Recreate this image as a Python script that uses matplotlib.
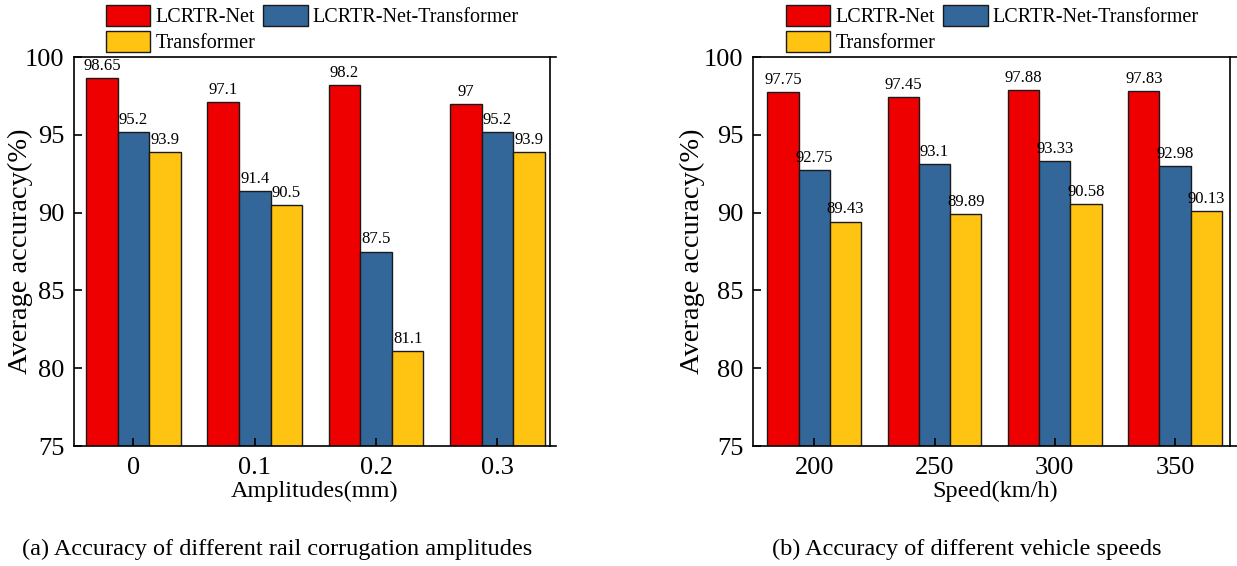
import numpy as np
import matplotlib
matplotlib.use("Agg")
import matplotlib.pyplot as plt

plt.rcParams['font.family'] = ['Liberation Serif', 'DejaVu Serif']

series = ['LCRTR-Net', 'LCRTR-Net-Transformer', 'Transformer']
colors = ['#EE0000', '#336699', '#FFC312']

amp_labels = ['0', '0.1', '0.2', '0.3']
amp_lcrtr = [98.65, 97.1, 98.2, 97]
amp_lcrtr_tr = [95.2, 91.4, 87.5, 95.2]
amp_tr = [93.9, 90.5, 81.1, 93.9]

speed_labels = ['200', '250', '300', '350']
speed_lcrtr = [97.75, 97.45, 97.88, 97.83]
speed_lcrtr_tr = [92.75, 93.1, 93.33, 92.98]
speed_tr = [89.43, 89.89, 90.58, 90.13]

fig = plt.figure(figsize=(12.37, 5.66), dpi=100)
ax1 = fig.add_axes([0.0598, 0.212, 0.3897, 0.687])
ax2 = fig.add_axes([0.6087, 0.212, 0.3913, 0.687])

w = 0.26


def draw(ax, labels, data, xlabel, xlim, rspine, ylab_x):
    x = np.arange(len(labels))
    handles = []
    for i, (vals, c) in enumerate(zip(data, colors)):
        b = ax.bar(x + (i - 1) * w, vals, w, color=c, edgecolor='#1a1a1a',
                   linewidth=1.0, label=series[i])
        ax.bar_label(b, labels=[f'{v:g}' for v in vals], padding=3, fontsize=12)
        handles.append(b)
    ax.set_ylim(75, 100)
    ax.set_yticks([75, 80, 85, 90, 95, 100])
    ax.set_xlim(*xlim)
    ax.set_xticks(x)
    ax.set_xticklabels(labels)
    ax.tick_params(direction='in', length=6, width=1.2, labelsize=19)
    ax.tick_params(axis='x', pad=8)
    ax.tick_params(axis='y', pad=7)
    ax.set_xlabel(xlabel, fontsize=17.5, labelpad=1)
    ax.set_ylabel('Average accuracy(%)', fontsize=20.5)
    # label coords give the right edge of the rotated label
    ax.yaxis.set_label_coords(ylab_x, 0.5)
    for s in ax.spines.values():
        s.set_linewidth(1.2)
    ax.spines['right'].set_position(('data', rspine))
    return handles


h1 = draw(ax1, amp_labels, [amp_lcrtr, amp_lcrtr_tr, amp_tr], 'Amplitudes(mm)',
          (-0.49, 3.483), 3.434, (33 - 74) / 482)
h2 = draw(ax2, speed_labels, [speed_lcrtr, speed_lcrtr_tr, speed_tr], 'Speed(km/h)',
          (-0.51, 3.515), 3.457, (705 - 753) / 484)

# legend fills row by row in the reference
order = [0, 2, 1]
for h, x0 in [(h1, 106), (h2, 786)]:
    fig.legend([h[i] for i in order], [series[i] for i in order], loc='upper left',
               bbox_to_anchor=(x0 / 1237, 1 - 5 / 566),
               ncol=2, frameon=False, fontsize=14.5, handlelength=2.2,
               handleheight=1.2, handletextpad=0.25, columnspacing=0.4,
               labelspacing=0.2, borderpad=0, borderaxespad=0)

fig.text(277 / 1237, 1 - 549 / 566, '(a) Accuracy of different rail corrugation amplitudes',
         ha='center', va='center', fontsize=17.5)
fig.text(967 / 1237, 1 - 549 / 566, '(b) Accuracy of different vehicle speeds',
         ha='center', va='center', fontsize=17.5)

fig.savefig('out.png', dpi=100)
